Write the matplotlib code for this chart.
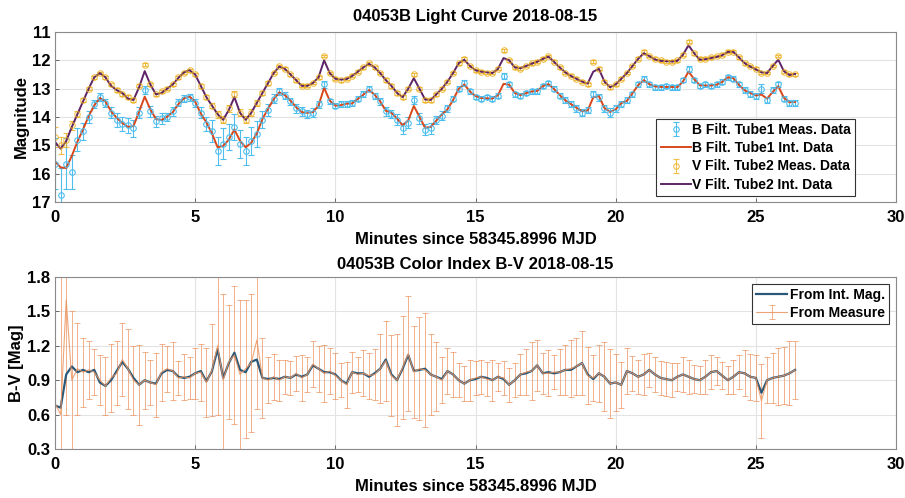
import numpy as np
import matplotlib
matplotlib.use("Agg")
import matplotlib.pyplot as plt

plt.rcParams['font.family'] = ['Liberation Sans', 'DejaVu Sans']
plt.rcParams['font.weight'] = 'bold'

# sample times (minutes since 58345.8996 MJD)
minutes = np.round(np.arange(0, 26.41, 0.2), 1)

v_int = [14.88, 15.12, 14.85, 14.35, 13.9, 13.45, 13.0, 12.6, 12.45, 12.6,
         12.9, 13.05, 13.15, 13.35, 13.4, 12.95, 12.38, 12.85, 13.2, 13.15,
         13.0, 12.85, 12.62, 12.42, 12.35, 12.5, 12.9, 13.3, 13.6, 13.9,
         14.1, 13.75, 13.3, 13.85, 14.1, 13.85, 13.5, 13.15, 12.8, 12.45,
         12.22, 12.3, 12.5, 12.7, 12.9, 12.9, 12.8, 12.6, 12.0, 12.45,
         12.65, 12.68, 12.66, 12.55, 12.4, 12.25, 12.12, 12.25, 12.45, 12.7,
         12.9, 13.15, 13.3, 13.0, 12.63, 13.0, 13.38, 13.4, 13.2, 13.0,
         12.75, 12.45, 12.1, 11.98, 12.2, 12.35, 12.4, 12.42, 12.45, 12.3,
         11.92, 12.0, 12.25, 12.28, 12.2, 12.12, 12.05, 11.95, 11.87, 12.05,
         12.25, 12.42, 12.55, 12.65, 12.75, 12.82, 12.4, 12.3, 12.75, 12.95,
         12.85, 12.65, 12.45, 12.2, 11.95, 11.75, 11.85, 11.97, 12.02, 12.03,
         12.04, 12.02, 11.8, 11.47, 11.75, 11.98, 11.96, 11.92, 11.88, 11.82,
         11.7, 11.7, 11.9, 12.1, 12.22, 12.32, 12.42, 12.45, 12.2, 11.98,
         12.38, 12.52, 12.48]

bv_int = [0.68, 0.66, 0.95, 1.02, 0.97, 0.99, 0.97, 0.99, 0.88, 0.85,
          0.9, 0.98, 1.06, 1.0, 0.92, 0.86, 0.9, 0.88, 0.87, 0.96,
          0.99, 0.98, 0.93, 0.92, 0.93, 0.96, 0.98, 0.89, 0.98, 1.17,
          0.92, 1.05, 1.14, 0.99, 0.97, 1.06, 1.08, 0.92, 0.91, 0.92,
          0.91, 0.93, 0.92, 0.95, 0.93, 0.95, 1.03, 1.0, 0.97, 0.97,
          0.95, 0.9, 0.87, 0.97, 0.96, 0.96, 0.93, 0.96, 1.0, 1.08,
          0.95, 0.9, 1.0, 1.12, 0.98, 0.99, 1.0, 0.95, 0.93, 0.91,
          0.98, 0.95, 0.9, 0.87, 0.9, 0.91, 0.93, 0.92, 0.9, 0.93,
          0.91, 0.86, 0.9, 0.95, 0.96, 0.98, 1.03, 0.96, 0.97, 0.96,
          0.97, 0.99, 0.99, 1.02, 1.05, 0.95, 0.91, 0.96, 0.93, 0.87,
          0.88, 0.86, 0.98, 0.96, 0.93, 0.95, 0.99, 0.95, 0.92, 0.91,
          0.9, 0.93, 0.95, 0.93, 0.91, 0.9, 0.93, 0.97, 0.98, 0.94,
          0.9, 0.93, 0.97, 0.96, 0.93, 0.92, 0.79, 0.9, 0.92, 0.93,
          0.94, 0.96, 0.99]

b_meas = [15.65, 16.75, 15.65, 15.95, 14.8, 14.5, 14.0, 13.55, 13.3, 13.5,
          13.85, 14.1, 14.25, 14.3, 14.4, 13.85, 13.05, 13.8, 14.15, 14.05,
          14.0, 13.8, 13.5, 13.35, 13.3, 13.5, 13.85, 14.25, 14.5, 15.2,
          14.95, 14.7, 14.35, 14.95, 15.2, 14.85, 14.6, 14.1, 13.75, 13.35,
          13.1, 13.25, 13.45, 13.7, 13.8, 13.9, 13.85, 13.55, 12.85, 13.45,
          13.6, 13.55, 13.55, 13.5, 13.35, 13.2, 13.0, 13.25, 13.45, 13.8,
          13.9, 14.1, 14.4, 14.2, 13.4, 14.05, 14.45, 14.4, 14.1, 13.95,
          13.7, 13.35, 13.0, 12.8, 13.1, 13.3, 13.35, 13.3, 13.35, 13.25,
          12.55, 12.85, 13.2, 13.25, 13.15, 13.1, 13.1, 12.9, 12.8, 13.0,
          13.25, 13.4, 13.55, 13.7, 13.85, 13.75, 13.2, 13.3, 13.7, 13.85,
          13.7, 13.55, 13.4, 13.2, 12.85, 12.65, 12.85, 12.95, 12.95, 12.9,
          12.95, 12.95, 12.7, 12.3, 12.7, 12.9, 12.85, 12.9, 12.85, 12.75,
          12.6, 12.65, 12.85, 13.05, 13.2, 13.25, 13.0, 13.4, 13.05, 12.85,
          13.35, 13.5, 13.5]

b_err = [0.9, 0.95, 0.9, 0.6, 0.4, 0.3, 0.2, 0.15, 0.15, 0.15,
         0.2, 0.25, 0.25, 0.25, 0.3, 0.2, 0.15, 0.2, 0.2, 0.2,
         0.15, 0.15, 0.12, 0.12, 0.12, 0.15, 0.2, 0.25, 0.4, 0.5,
         0.55, 0.45, 0.45, 0.5, 0.5, 0.5, 0.45, 0.3, 0.2, 0.15,
         0.12, 0.12, 0.12, 0.15, 0.15, 0.15, 0.15, 0.12, 0.12, 0.1,
         0.1, 0.1, 0.1, 0.1, 0.1, 0.1, 0.1, 0.1, 0.12, 0.15,
         0.15, 0.2, 0.2, 0.2, 0.15, 0.2, 0.2, 0.2, 0.15, 0.15,
         0.12, 0.1, 0.1, 0.1, 0.08, 0.08, 0.08, 0.08, 0.08, 0.08,
         0.1, 0.1, 0.08, 0.08, 0.08, 0.08, 0.08, 0.08, 0.08, 0.08,
         0.08, 0.1, 0.1, 0.12, 0.12, 0.12, 0.1, 0.12, 0.12, 0.15,
         0.12, 0.1, 0.1, 0.08, 0.08, 0.08, 0.08, 0.08, 0.08, 0.08,
         0.08, 0.08, 0.08, 0.1, 0.08, 0.08, 0.08, 0.08, 0.08, 0.08,
         0.08, 0.08, 0.08, 0.1, 0.1, 0.1, 0.15, 0.1, 0.1, 0.1,
         0.1, 0.1, 0.1]

v_meas = [14.7, 15.0, 14.8, 14.3, 13.9, 13.4, 13.0, 12.6, 12.45, 12.6,
          12.85, 13.05, 13.2, 13.3, 13.4, 12.9, 12.15, 12.85, 13.2, 13.1,
          13.0, 12.85, 12.6, 12.45, 12.35, 12.5, 12.9, 13.3, 13.6, 13.9,
          14.1, 13.7, 13.2, 13.85, 14.1, 13.85, 13.5, 13.15, 12.8, 12.45,
          12.2, 12.3, 12.5, 12.7, 12.9, 12.9, 12.8, 12.6, 11.85, 12.45,
          12.65, 12.7, 12.65, 12.55, 12.4, 12.25, 12.1, 12.25, 12.45, 12.7,
          12.9, 13.15, 13.3, 13.0, 12.5, 13.0, 13.4, 13.4, 13.2, 13.0,
          12.75, 12.45, 12.1, 11.95, 12.2, 12.35, 12.4, 12.45, 12.45, 12.3,
          11.65, 12.0, 12.25, 12.3, 12.2, 12.1, 12.05, 11.95, 11.85, 12.05,
          12.25, 12.45, 12.55, 12.65, 12.75, 12.85, 12.05, 12.3, 12.75, 12.95,
          12.85, 12.65, 12.45, 12.2, 11.95, 11.7, 11.85, 11.95, 12.0, 12.05,
          12.05, 12.0, 11.8, 11.35, 11.75, 11.95, 11.95, 11.9, 11.85, 11.8,
          11.7, 11.7, 11.9, 12.1, 12.2, 12.3, 12.45, 12.45, 12.2, 11.85,
          12.4, 12.5, 12.5]

v_err = [0.35, 0.3, 0.25, 0.15, 0.1, 0.08, 0.06, 0.05, 0.05, 0.05,
         0.05, 0.06, 0.06, 0.06, 0.06, 0.05, 0.05, 0.05, 0.06, 0.06,
         0.05, 0.05, 0.05, 0.05, 0.05, 0.05, 0.06, 0.08, 0.1, 0.12,
         0.12, 0.12, 0.1, 0.12, 0.12, 0.12, 0.1, 0.08, 0.06, 0.05,
         0.05, 0.05, 0.05, 0.05, 0.05, 0.05, 0.05, 0.05, 0.05, 0.05,
         0.05, 0.05, 0.05, 0.05, 0.05, 0.05, 0.05, 0.05, 0.05, 0.06,
         0.06, 0.06, 0.06, 0.06, 0.06, 0.06, 0.06, 0.06, 0.06, 0.05,
         0.05, 0.05, 0.05, 0.05, 0.05, 0.05, 0.05, 0.05, 0.05, 0.05,
         0.05, 0.05, 0.05, 0.05, 0.05, 0.05, 0.05, 0.05, 0.05, 0.05,
         0.05, 0.05, 0.05, 0.05, 0.05, 0.05, 0.05, 0.05, 0.05, 0.05,
         0.05, 0.05, 0.05, 0.05, 0.05, 0.05, 0.05, 0.05, 0.05, 0.05,
         0.05, 0.05, 0.05, 0.05, 0.05, 0.05, 0.05, 0.05, 0.05, 0.05,
         0.05, 0.05, 0.05, 0.05, 0.05, 0.05, 0.05, 0.05, 0.05, 0.05,
         0.05, 0.05, 0.05]

bv_meas = [0.7, 0.6, 1.6, 0.9, 1.0, 0.97, 0.99, 0.97, 0.9, 0.85,
           0.92, 0.96, 1.08, 1.0, 0.9, 0.86, 0.9, 0.88, 0.86, 0.97,
           1.0, 0.98, 0.92, 0.93, 0.92, 0.96, 0.97, 0.88, 0.99, 1.2,
           0.9, 1.06, 1.12, 0.95, 1.0, 1.05, 1.25, 0.92, 0.9, 0.93,
           0.9, 0.93, 0.92, 0.96, 0.92, 0.95, 1.04, 1.0, 0.96, 0.98,
           0.94, 0.9, 0.86, 0.97, 0.95, 0.96, 0.94, 0.95, 1.0, 1.07,
           0.94, 0.9, 1.01, 1.13, 0.97, 1.0, 0.99, 0.95, 0.93, 0.9,
           0.98, 0.95, 0.9, 0.87, 0.9, 0.92, 0.93, 0.91, 0.9, 0.93,
           0.92, 0.86, 0.9, 0.95, 0.97, 0.98, 1.03, 0.96, 0.96, 0.97,
           0.97, 0.99, 1.0, 1.02, 1.05, 0.94, 0.92, 0.96, 0.93, 0.87,
           0.88, 0.86, 0.98, 0.96, 0.93, 0.95, 0.99, 0.95, 0.92, 0.91,
           0.9, 0.93, 0.95, 0.93, 0.91, 0.9, 0.93, 0.97, 0.98, 0.94,
           0.9, 0.93, 0.97, 0.96, 0.93, 0.92, 0.72, 0.9, 0.92, 0.93,
           0.94, 0.96, 0.99]

bv_err = [1.1, 1.2, 1.0, 0.6, 0.4, 0.3, 0.25, 0.2, 0.22, 0.25,
          0.3, 0.28, 0.32, 0.35, 0.3, 0.35, 0.25, 0.2, 0.28, 0.25,
          0.2, 0.25, 0.15, 0.2, 0.18, 0.22, 0.25, 0.3, 0.4, 0.6,
          0.75, 0.5, 0.6, 0.65, 0.6, 0.6, 0.6, 0.35, 0.2, 0.2,
          0.18, 0.15, 0.15, 0.15, 0.2, 0.15, 0.2, 0.2, 0.25, 0.2,
          0.2, 0.15, 0.2, 0.18, 0.15, 0.2, 0.2, 0.22, 0.3, 0.35,
          0.35, 0.4, 0.45, 0.5, 0.4, 0.45, 0.5, 0.35, 0.3, 0.2,
          0.2, 0.2, 0.15, 0.15, 0.18, 0.15, 0.15, 0.15, 0.18, 0.12,
          0.15, 0.15, 0.15, 0.18, 0.2, 0.25, 0.22, 0.18, 0.2, 0.15,
          0.2, 0.22, 0.25, 0.25, 0.28, 0.25, 0.2, 0.25, 0.3, 0.3,
          0.25, 0.2, 0.2, 0.15, 0.15, 0.18, 0.15, 0.15, 0.15, 0.15,
          0.15, 0.12, 0.15, 0.15, 0.12, 0.12, 0.15, 0.15, 0.12, 0.12,
          0.12, 0.15, 0.15, 0.2, 0.2, 0.2, 0.32, 0.2, 0.22, 0.25,
          0.25, 0.28, 0.25]

v_int = np.array(v_int)
bv_int = np.array(bv_int)
b_int = v_int + bv_int

C_BMEAS = '#4DBEEE'
C_BINT = '#D9481C'
C_VMEAS = '#EDB120'
C_VINT = '#5E2466'
C_BV = '#2A5878'
C_BVM = '#EC9460'

fig = plt.figure(figsize=(9.05, 4.98), dpi=100)
W, H = 905.0, 498.0
ax1 = fig.add_axes([55 / W, 1 - 202 / H, (896 - 55) / W, (202 - 32) / H])
ax2 = fig.add_axes([55 / W, 1 - 449 / H, (896 - 55) / W, (449 - 277) / H])

fs_tick = 12
fs_lab = 12
fs_title = 12
for ax in (ax1, ax2):
    ax.grid(True, color='#e3e3e3', linewidth=0.8)
    ax.set_axisbelow(True)
    ax.tick_params(direction='in', length=3, labelsize=fs_tick, color='#555555', width=0.6)
    ax.tick_params(axis='x', pad=6)
    ax.tick_params(axis='y', pad=3.5)
    for s in ax.spines.values():
        s.set_color('#8a8a8a')
        s.set_linewidth(0.8)
    ax.set_xlim(0, 30)
    ax.set_xticks([0, 5, 10, 15, 20, 25, 30])

# top panel
h1 = ax1.errorbar(minutes, b_meas, yerr=b_err, fmt='o', color=C_BMEAS, ms=4,
                  mfc='none', mew=0.8, elinewidth=0.8, capsize=2, capthick=0.7)
h2, = ax1.plot(minutes, b_int, color=C_BINT, lw=1.4)
h3 = ax1.errorbar(minutes, v_meas, yerr=v_err, fmt='o', color=C_VMEAS, ms=4,
                  mfc='none', mew=0.8, elinewidth=0.8, capsize=2, capthick=0.7, alpha=0.8)
h4, = ax1.plot(minutes, v_int, color=C_VINT, lw=1.4)
ax1.set_ylim(17, 11)
ax1.set_yticks([11, 12, 13, 14, 15, 16, 17])
ax1.set_title('04053B Light Curve 2018-08-15', fontsize=fs_title, fontweight='bold', pad=8)
ax1.set_xlabel('Minutes since 58345.8996 MJD', fontsize=fs_lab, fontweight='bold', labelpad=5)
ax1.set_ylabel('Magnitude', fontsize=fs_lab, fontweight='bold', labelpad=2)
leg1 = ax1.legend([h1, h2, h3, h4],
                  ['B Filt. Tube1 Meas. Data', 'B Filt. Tube1 Int. Data',
                   'V Filt. Tube2 Meas. Data', 'V Filt. Tube2 Int. Data'],
                  loc='lower right', bbox_to_anchor=(0.955, 0.02),
                  prop={'weight': 'bold', 'size': 10}, fancybox=False,
                  edgecolor='#333333', framealpha=1, borderpad=0.3,
                  labelspacing=0.3, handlelength=2.2, handletextpad=0.1, borderaxespad=0.2)
leg1.get_frame().set_linewidth(0.8)

# bottom panel
h5 = ax2.errorbar(minutes, bv_meas, yerr=bv_err, color=C_BVM, lw=0.8,
                  elinewidth=0.6, capsize=2, capthick=0.6, alpha=0.85)
h6, = ax2.plot(minutes, b_int - v_int, color=C_BV, lw=1.6)
ax2.set_ylim(0.3, 1.8)
ax2.set_yticks([0.3, 0.6, 0.9, 1.2, 1.5, 1.8])
ax2.set_yticklabels(['0.3', '0.6', '0.9', '1.2', '1.5', '1.8'])
ax2.set_title('04053B Color Index B-V 2018-08-15', fontsize=fs_title, fontweight='bold', pad=6)
ax2.set_xlabel('Minutes since 58345.8996 MJD', fontsize=fs_lab, fontweight='bold', labelpad=5)
ax2.set_ylabel('B-V [Mag]', fontsize=fs_lab, fontweight='bold', labelpad=2)
leg2 = ax2.legend([h6, h5], ['From Int. Mag.', 'From Measure'], loc='upper right',
                  prop={'weight': 'bold', 'size': 10}, fancybox=False,
                  edgecolor='#333333', framealpha=1, borderpad=0.3,
                  labelspacing=0.25, handlelength=2.2, handletextpad=0.2, borderaxespad=0.5)
leg2.get_frame().set_linewidth(0.8)

fig.savefig('out.png', dpi=100)
